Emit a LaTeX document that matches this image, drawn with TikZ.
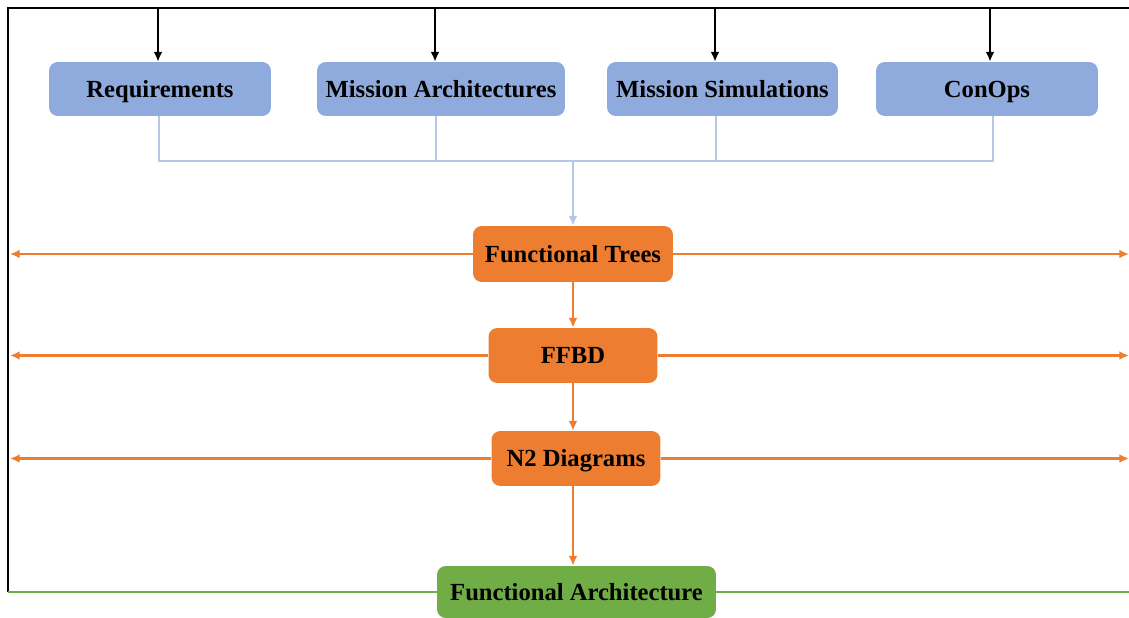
\documentclass[tikz,border=0pt]{standalone}
\usepackage{fontspec}
\setmainfont{Liberation Serif}
\usepackage{xcolor}
\definecolor{reqblue}{RGB}{143, 170, 220}
\definecolor{linkblue}{RGB}{180, 199, 231}
\definecolor{funcorange}{RGB}{237, 125, 49}
\definecolor{archgreen}{RGB}{112, 173, 71}
\usepackage{tikz}
\usetikzlibrary{arrows.meta, positioning, calc}

\tikzset{
	basebox/.style={rounded corners=5pt, minimum height=1.08cm, inner sep=2pt,
		text height=9.5pt, text depth=0pt,
		font=\fontsize{14}{16}\selectfont\bfseries, text=black},
	inbox/.style={basebox, fill=reqblue},
	funcbox/.style={basebox, fill=funcorange},
	archbox/.style={basebox, fill=archgreen, minimum height=1.04cm},
	tip/.style={-{Latex[length=5.5pt, width=5pt]}},
}

\begin{document}
\begin{tikzpicture}[x=0.02cm, y=-0.02cm]
		\useasboundingbox (0,0) rectangle (1129,618);
		% inputs
		\node[inbox, minimum width=4.44cm] (req) at (160,89) {Requirements};
		\node[inbox, minimum width=4.96cm] (arch) at (441,89) {Mission Architectures};
		\node[inbox, minimum width=4.62cm] (sim) at (722.5,89) {Mission Simulations};
		\node[inbox, minimum width=4.44cm] (conops) at (987,89) {ConOps};
		% functional chain
		\node[funcbox, minimum width=4.0cm, minimum height=1.12cm] (trees) at (573,254) {Functional Trees};
		\node[funcbox, minimum width=3.38cm, minimum height=1.1cm] (ffbd) at (573,355.5) {FFBD};
		\node[funcbox, minimum width=3.38cm, minimum height=1.1cm] (ntwo) at (576,458.5) {N2 Diagrams};
		\node[archbox, minimum width=5.58cm] (farch) at (576.5,592) {Functional Architecture};
		% frame
		\coordinate (tl) at (8,8);
		\coordinate (tr) at (1129,8);
		\coordinate (bl) at (8,592);
		\coordinate (br) at (1129,592);
		\draw[line width=1.5pt] (tr) -- (tl) -- (bl);
		\foreach \name/\xx in {req/158, arch/435, sim/715, conops/990}
			\draw[line width=1.3pt, tip] (\xx,8) -- (\xx,8 |- \name.north);
		% merge of the inputs
		\coordinate (merge) at (573,161);
		\draw[linkblue, line width=1.3pt] (req.south -| 159,0) |- (merge) -| (conops.south -| 993,0);
		\draw[linkblue, line width=1.3pt] (arch.south -| 436,0) -- (436,161);
		\draw[linkblue, line width=1.3pt] (sim.south -| 716,0) -- (716,161);
		\draw[linkblue, line width=1.3pt, tip] (merge) -- (trees.north);
		% chain and side outputs
		\draw[funcorange, line width=1.3pt, tip] (trees.south) -- (trees.south |- ffbd.north);
		\draw[funcorange, line width=1.3pt, tip] (ffbd.south) -- (ffbd.south |- ntwo.north);
		\draw[funcorange, line width=1.3pt, tip] (ntwo.south -| trees.south) -- (trees.south |- farch.north);
		\foreach \name in {trees, ffbd, ntwo} {
			\draw[funcorange, line width=1.3pt, tip] (\name.west) -- (\name.west -| 10,0);
			\draw[funcorange, line width=1.3pt, tip] (\name.east) -- (\name.east -| 1129,0);
		}
		\draw[archgreen, line width=1.6pt] (bl) -- (farch.west);
		\draw[archgreen, line width=1.6pt] (farch.east) -- (br);
	\end{tikzpicture}
\end{document}
